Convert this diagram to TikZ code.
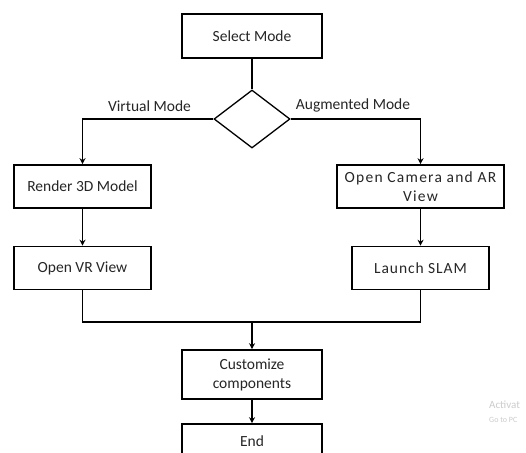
\documentclass[tikz,border=0pt]{standalone}
\usepackage{fontspec}
\setmainfont{Carlito}
\usetikzlibrary{shapes.geometric,arrows.meta}
\begin{document}
\begin{tikzpicture}[x=1pt,y=-1pt,
  box/.style={draw=black,line width=1.6pt,rectangle,minimum width=137pt,minimum height=43pt,inner sep=2pt,align=center,font=\fontsize{15.5}{19}\selectfont,text=black!85},
  wide/.style={box,minimum width=140pt},
  conn/.style={draw=black,line width=1.3pt},
  arr/.style={conn,-{Stealth[length=6pt,width=6pt]}},
  lbl/.style={font=\fontsize{15.5}{18}\selectfont,text=black!85,inner sep=0pt},
  wm/.style={text=black!20,inner sep=0pt,anchor=west}]
\useasboundingbox (0,0) rectangle (526,452);
\clip (0,0) rectangle (526,452);
\fill[white] (0,0) rectangle (526,452);
\node[wide,minimum height=44pt] (sel) at (252,36) {Select Mode};
\node[draw=black,line width=1.3pt,diamond,minimum width=76pt,minimum height=58pt,inner sep=0pt] (dia) at (252,119) {};
\node[box] (render) at (82.5,186.5) {Render 3D Model};
\node[box] (vr) at (82.5,268) {Open VR View};
\node[box,minimum width=167pt,font=\fontsize{15.5}{19}\selectfont\addfontfeature{LetterSpace=8}] (cam) at (420.5,186.5) {Open Camera and AR\\View};
\node[box,font=\fontsize{15.5}{19}\selectfont\addfontfeature{LetterSpace=6}] (slam) at (420.5,268) {Launch SLAM};
\node[wide,minimum height=49pt] (cust) at (252,374.5) {Customize\\components};
\node[wide,minimum height=40pt,text depth=6pt] (end) at (252,444) {End};
\coordinate (merge) at (252,322);
\draw[conn] (sel.south) -- (dia.north);
\draw[arr] (dia.west) -| (render.north);
\draw[arr] (dia.east) -| (cam.north);
\node[lbl] (vlab) at (149.5,106) {Virtual Mode};
\node[lbl] (alab) at (353,105) {Augmented Mode};
\draw[arr] (render.south) -- (vr.north);
\draw[arr] (cam.south) -- (slam.north);
\draw[conn] (vr.south) |- (merge) -| (slam.south);
\draw[arr] (merge) -- (cust.north);
\draw[arr] (cust.south) -- (end.north);
\node[wm,font=\fontsize{11}{12}\selectfont] (wm1) at (489,405) {Activat};
\node[wm,font=\fontsize{8}{9}\selectfont] (wm2) at (489,420) {Go to PC};
\end{tikzpicture}
\end{document}
